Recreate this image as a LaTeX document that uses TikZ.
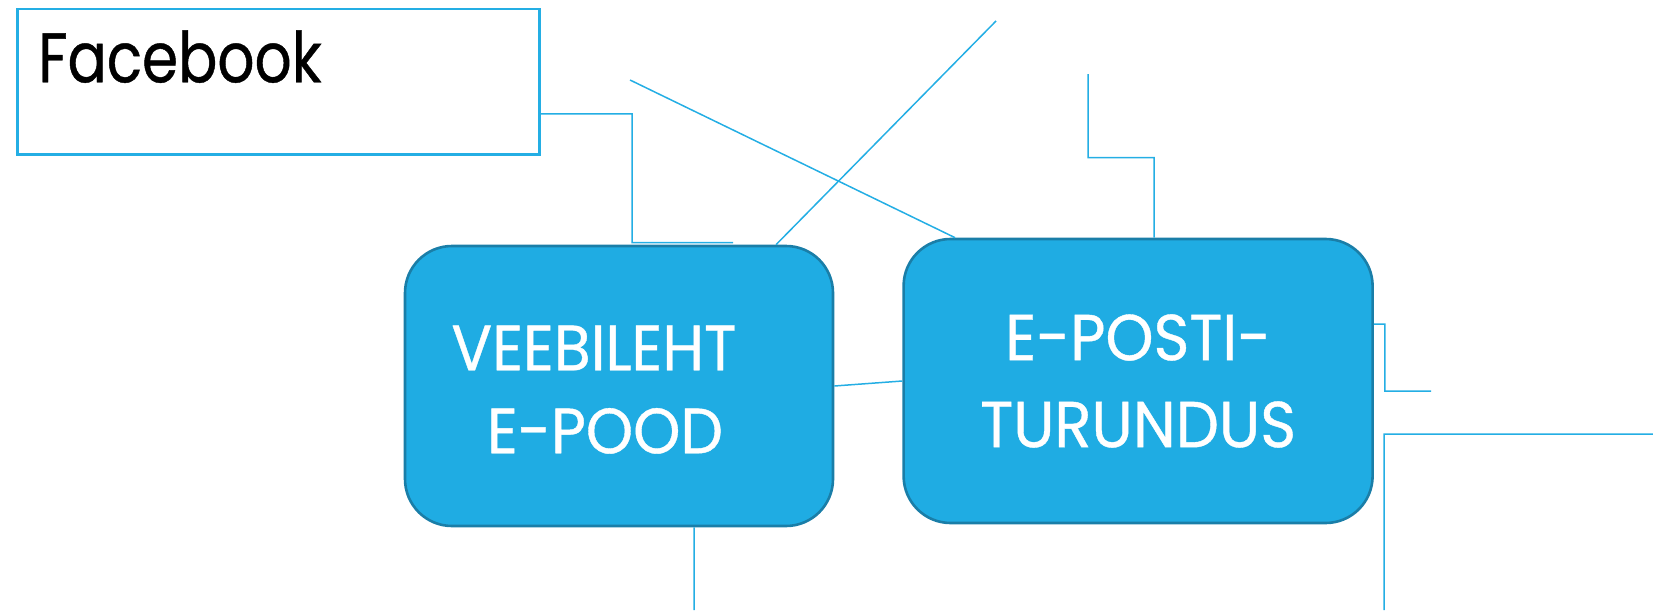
\documentclass[tikz,border=0pt]{standalone}
\usepackage{fontspec}
\setmainfont{Poppins}[FakeStretch=0.94, FakeBold=0.6]
\newfontfamily\fbfont{Poppins}[FakeStretch=0.83, FakeBold=0.6]
\usetikzlibrary{positioning}

\definecolor{boxblue}{HTML}{1FACE3}
\definecolor{boxedge}{HTML}{1A7EA8}
\definecolor{lineblue}{HTML}{24AEE4}

\begin{document}
\begin{tikzpicture}[
		x=1pt, y=-1pt,
		node distance=68pt,
		topic/.style={draw=boxedge, fill=boxblue, line width=2.6pt, rounded corners=47pt,
			text=white, align=center, inner sep=0pt},
		link/.style={draw=lineblue, line width=1.5pt}
		]
		\useasboundingbox (0,0) rectangle (1653,610);
		\node (fb) [anchor=north west, draw=lineblue, line width=2.5pt, inner xsep=21pt, inner ysep=24pt,
			text width=480pt, text height=49pt, text depth=48pt, align=left,
			font=\fbfont\fontsize{70}{84}\selectfont] at (16,8) {Facebook};
		\node (veeb) [topic, minimum width=428pt, minimum height=280pt, font=\fontsize{64}{83}\selectfont]
			at (619,386) {\rule{0pt}{52pt}VEEBILEHT\hspace*{50pt}\\E-POOD\hspace*{28pt}};
		\node (posti) [topic, minimum width=469pt, minimum height=284pt, right=of veeb, yshift=5pt,
			font=\fontsize{65}{87}\selectfont] {E-POSTI-\\TURUNDUS};
		% free ends
		\coordinate (f1) at (996,21);
		\coordinate (f2) at (630,80);
		\coordinate (f3) at (1088,74);
		\coordinate (f4) at (1431,391);
		\coordinate (f5) at (1653,434);
		\coordinate (f6) at (1384,610);
		\coordinate (f7) at (694,610);
		\path[link]
		([yshift=-32pt]fb.east) -| ([xshift=13pt,yshift=2pt]veeb.north) -- ([xshift=114pt,yshift=2pt]veeb.north)
		([xshift=157pt]veeb.north) -- (f1)
		(f2) -- ([xshift=-183pt]posti.north)
		(f3) |- ([xshift=16pt,yshift=80pt]posti.north) -- ([xshift=16pt]posti.north)
		(veeb.east) -- (posti.west)
		([yshift=57pt]posti.east) -- ++(11,0) |- (f4)
		(f5) -| (f6)
		([xshift=75pt]veeb.south) -- (f7);
	\end{tikzpicture}
\end{document}
